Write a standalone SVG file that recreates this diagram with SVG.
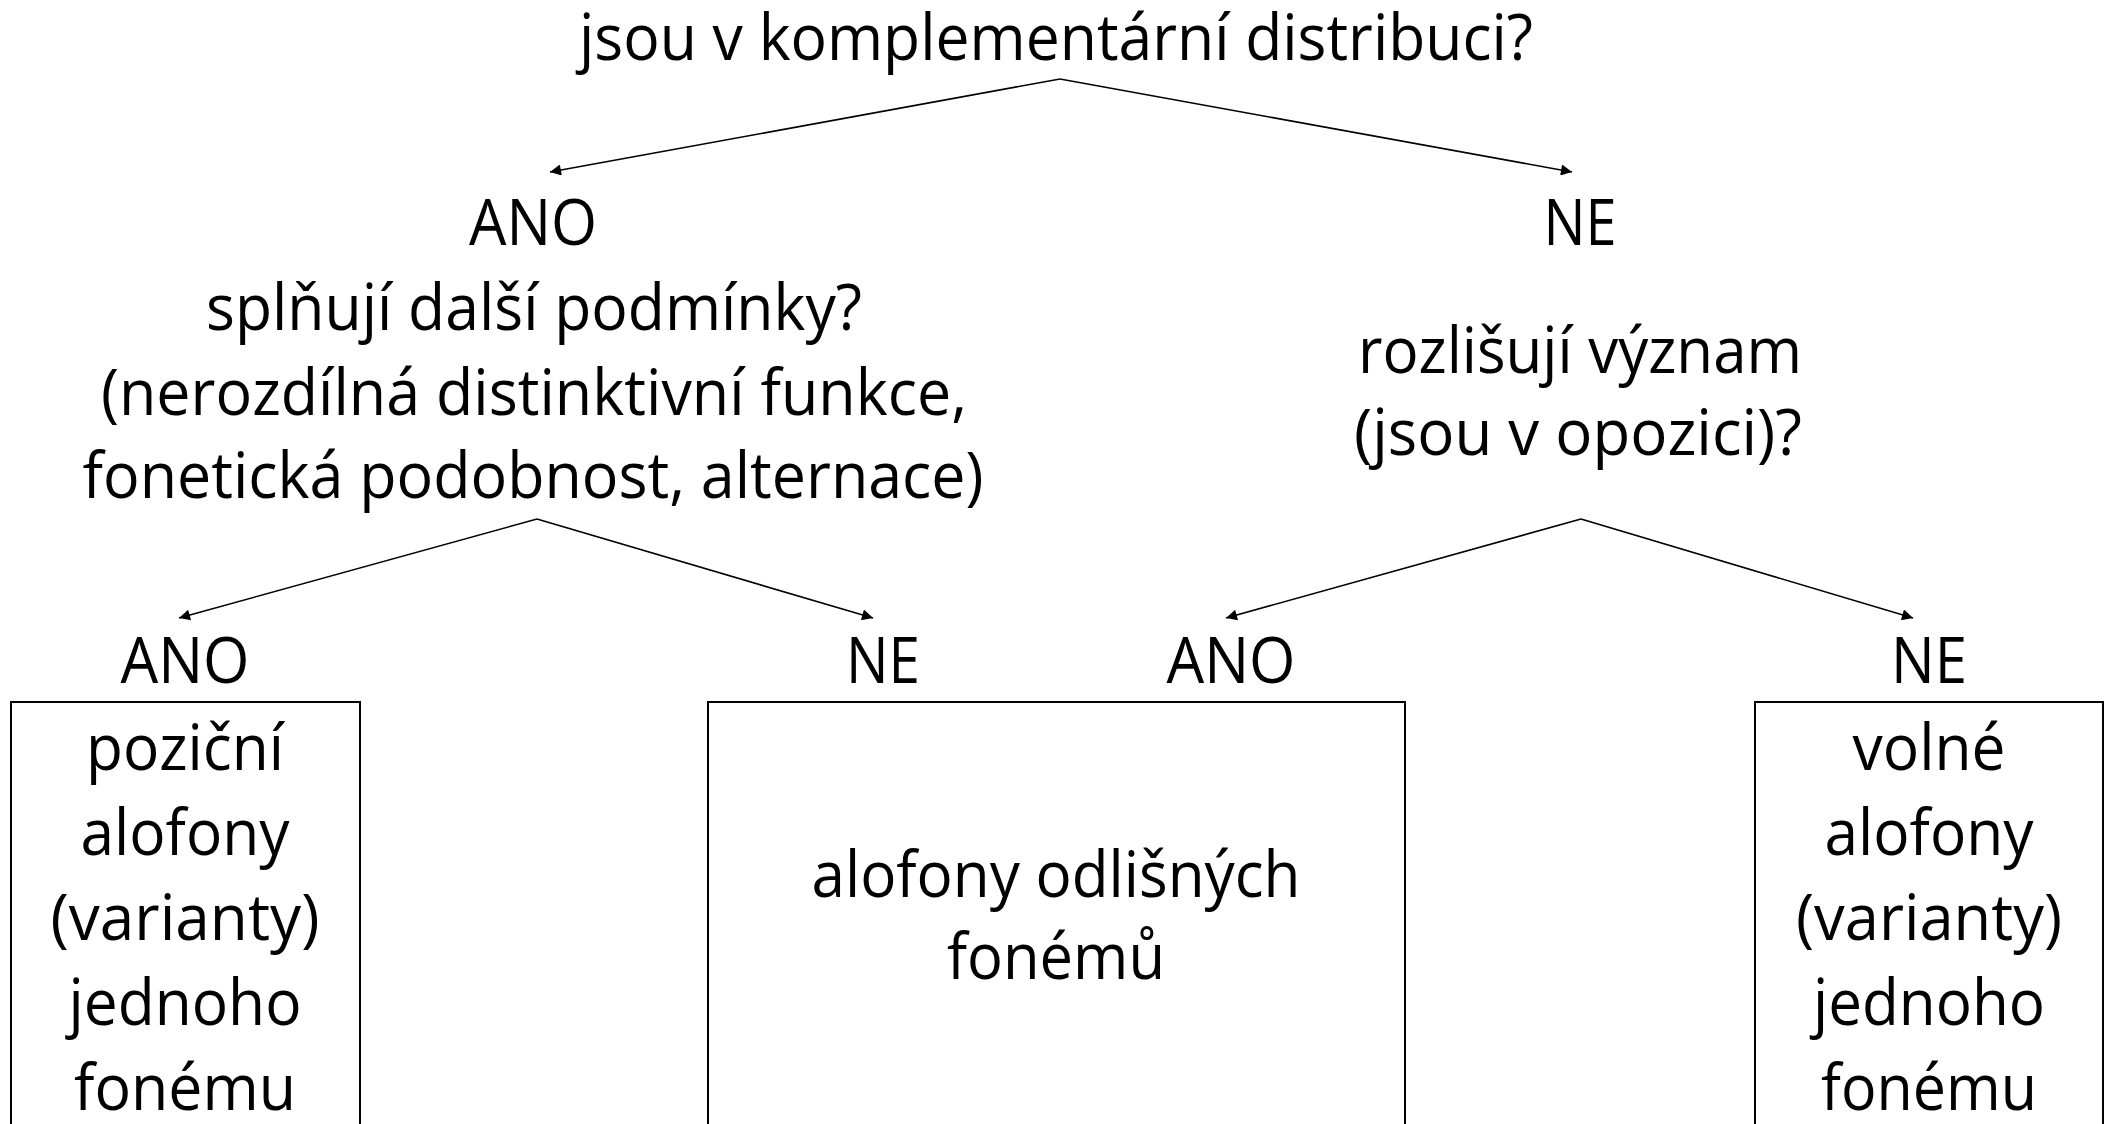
<svg xmlns="http://www.w3.org/2000/svg" width="2112" height="1124" viewBox="0 0 2112 1124">
<defs>
<marker id="arr" viewBox="0 0 10 10" refX="10" refY="5" markerWidth="15" markerHeight="11" markerUnits="userSpaceOnUse" orient="auto">
<path d="M0,0 L10,5 L0,10 z" fill="#000"/>
</marker>
<style>
text{font-family:"Open Sans","Noto Sans","Liberation Sans",sans-serif;font-size:64px;fill:#000;text-anchor:middle}
.box{fill:#fff;stroke:#000;stroke-width:2}
.edge{stroke:#000;stroke-width:1.6;fill:none;marker-end:url(#arr)}
</style>
</defs>
<rect width="2112" height="1124" fill="#fff"/>
<g id="connectors">
<line class="edge" x1="1060" y1="79" x2="550" y2="172"/>
<line class="edge" x1="1060" y1="79" x2="1572" y2="172"/>
<line class="edge" x1="537" y1="519" x2="179" y2="618"/>
<line class="edge" x1="537" y1="519" x2="873" y2="618"/>
<line class="edge" x1="1581" y1="519" x2="1226" y2="618"/>
<line class="edge" x1="1581" y1="519" x2="1913" y2="618"/>
</g>
<g id="root">
<text x="1056" y="60" textLength="954" lengthAdjust="spacingAndGlyphs">jsou v komplementární distribuci?</text>
</g>
<g id="q-ano">
<text x="533" y="245" textLength="128" lengthAdjust="spacingAndGlyphs">ANO</text>
<text x="534" y="330" textLength="656" lengthAdjust="spacingAndGlyphs">splňují další podmínky?</text>
<text x="534" y="415" textLength="866" lengthAdjust="spacingAndGlyphs">(nerozdílná distinktivní funkce,</text>
<text x="533" y="498" textLength="901" lengthAdjust="spacingAndGlyphs">fonetická podobnost, alternace)</text>
</g>
<g id="q-ne">
<text x="1580" y="245" textLength="73" lengthAdjust="spacingAndGlyphs">NE</text>
<text x="1580" y="373" textLength="444" lengthAdjust="spacingAndGlyphs">rozlišují význam</text>
<text x="1578" y="455" textLength="448" lengthAdjust="spacingAndGlyphs">(jsou v opozici)?</text>
</g>
<g id="leaf-left">
<text x="185" y="683" textLength="129" lengthAdjust="spacingAndGlyphs">ANO</text>
<rect class="box" x="11" y="702" width="349" height="440"/>
<text x="185" y="770" textLength="198" lengthAdjust="spacingAndGlyphs">poziční</text>
<text x="185" y="855" textLength="209" lengthAdjust="spacingAndGlyphs">alofony</text>
<text x="185" y="940" textLength="269" lengthAdjust="spacingAndGlyphs">(varianty)</text>
<text x="185" y="1025" textLength="233" lengthAdjust="spacingAndGlyphs">jednoho</text>
<text x="185" y="1110" textLength="222" lengthAdjust="spacingAndGlyphs">fonému</text>
</g>
<g id="leaf-middle">
<text x="883" y="683" textLength="74" lengthAdjust="spacingAndGlyphs">NE</text>
<text x="1231" y="683" textLength="129" lengthAdjust="spacingAndGlyphs">ANO</text>
<rect class="box" x="708" y="702" width="697" height="440"/>
<text x="1056" y="897" textLength="489" lengthAdjust="spacingAndGlyphs">alofony odlišných</text>
<text x="1056" y="979" textLength="218" lengthAdjust="spacingAndGlyphs">fonémů</text>
</g>
<g id="leaf-right">
<text x="1929" y="683" textLength="76" lengthAdjust="spacingAndGlyphs">NE</text>
<rect class="box" x="1755" y="702" width="348" height="440"/>
<text x="1929" y="770" textLength="153" lengthAdjust="spacingAndGlyphs">volné</text>
<text x="1929" y="855" textLength="209" lengthAdjust="spacingAndGlyphs">alofony</text>
<text x="1929" y="940" textLength="266" lengthAdjust="spacingAndGlyphs">(varianty)</text>
<text x="1929" y="1025" textLength="232" lengthAdjust="spacingAndGlyphs">jednoho</text>
<text x="1929" y="1110" textLength="216" lengthAdjust="spacingAndGlyphs">fonému</text>
</g>
</svg>
